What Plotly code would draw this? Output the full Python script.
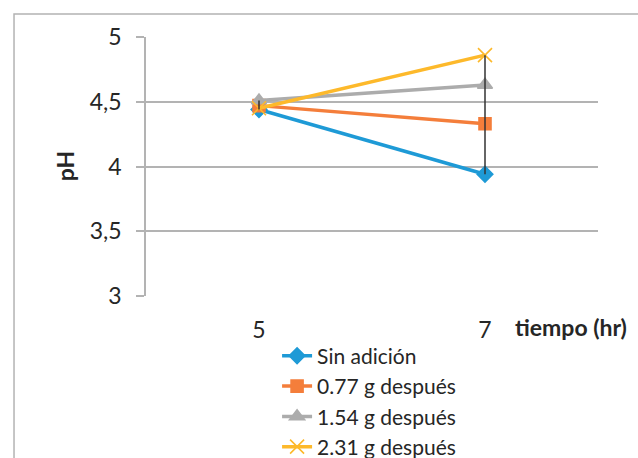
import plotly.graph_objects as go

# Datos: pH frente al tiempo
tiempo = ["5", "7"]
sin_adicion = [4.44, 3.94]
g077_despues = [4.47, 4.33]
g154_despues = [4.51, 4.63]
g231_despues = [4.45, 4.86]

series_nombres = ["Sin adición", "0.77 g después", "1.54 g después", "2.31 g después"]
ytick_vals = [3, 3.5, 4, 4.5, 5]
ytick_text = ["3", "3,5", "4", "4,5", "5"]

colores = ["#1E9AD6", "#F47E3B", "#ACACAC", "#FDB92B"]
simbolos = ["diamond", "square", "triangle-up", "x-thin-open"]
tamanos = [12, 12, 13, 14]

FONT = "Lato"
FS = 23
FS_LEG = 21
fig = go.Figure()

valores = [sin_adicion, g077_despues, g154_despues, g231_despues]
for nombre, ys, col, sym, sz in zip(series_nombres, valores, colores, simbolos, tamanos):
    fig.add_trace(go.Scatter(
        x=tiempo, y=ys, name=nombre, mode="lines+markers",
        line=dict(color=col, width=3.5),
        marker=dict(symbol=sym, size=sz, color=col,
                    line=dict(color=col, width=1.6)),
    ))

# Líneas de máximos y mínimos por categoría
hl_x, hl_y = [], []
for i, t in enumerate(tiempo):
    col_vals = [s[i] for s in valores]
    hl_x += [t, t, None]
    hl_y += [min(col_vals), max(col_vals), None]
fig.add_trace(go.Scatter(x=hl_x, y=hl_y, mode="lines", showlegend=False,
                         line=dict(color="#333333", width=1.5), hoverinfo="skip"))

fig.update_layout(
    width=638, height=458,
    margin=dict(l=146, r=40, t=37, b=162, autoexpand=False),
    paper_bgcolor="white", plot_bgcolor="white",
    font=dict(family=FONT, size=FS, color="#262626"),
    showlegend=True,
    legend=dict(x=0.29, y=-0.153, xanchor="left", yanchor="top",
                font=dict(family=FONT, size=FS_LEG, color="#262626"),
                bgcolor="rgba(0,0,0,0)", tracegroupgap=0),
    xaxis=dict(type="category", range=[-0.5, 1.5], showgrid=False,
               showline=False, ticks="", ticklabelstandoff=18,
               tickfont=dict(family=FONT, size=FS, color="#262626"),
               zeroline=False),
    yaxis=dict(range=[3, 5], tickvals=ytick_vals, ticktext=ytick_text,
               showgrid=True, gridcolor="#B3B3B3", gridwidth=1.5,
               showline=True, linecolor="#B3B3B3", linewidth=1.5,
               ticks="outside", ticklen=8, tickcolor="#B3B3B3", tickwidth=1.5,
               ticklabelstandoff=10, zeroline=False,
               tickfont=dict(family=FONT, size=FS, color="#262626")),
    annotations=[
        dict(text="<b>pH</b>", x=-0.18, y=0.5, xref="paper", yref="paper",
             textangle=-90, showarrow=False, xanchor="center", yanchor="middle",
             font=dict(family=FONT, size=FS, color="#262626")),
        dict(text="<b>tiempo (hr)</b>", x=0.812, y=-0.12, xref="paper", yref="paper",
             showarrow=False, xanchor="left", yanchor="middle",
             font=dict(family=FONT, size=FS, color="#262626")),
    ],
    shapes=[
        dict(type="rect", xref="paper", yref="paper",
             x0=-0.292, x1=1.12, y0=-0.70, y1=1.0888,
             line=dict(color="#B3B3B3", width=1.5), layer="below"),
    ],
)

fig.write_html("out.html")
